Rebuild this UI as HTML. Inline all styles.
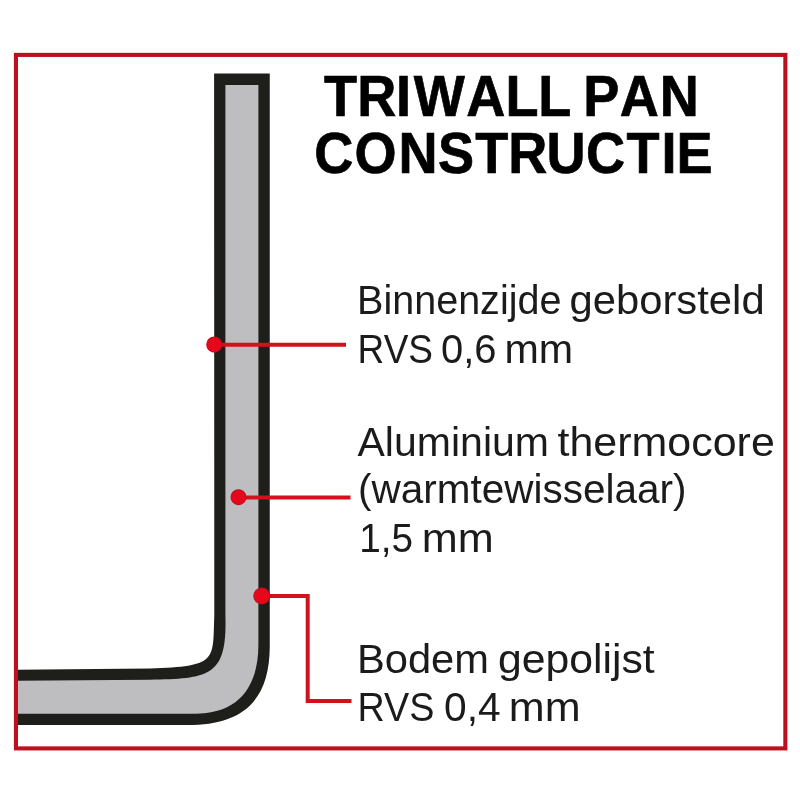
<!DOCTYPE html>
<html><head><meta charset="utf-8">
<style>
html,body{margin:0;padding:0;background:#fff;width:800px;height:800px;overflow:hidden}
svg{display:block}
text{font-family:"Liberation Sans",sans-serif}
.t{will-change:transform}
</style></head>
<body>
<svg width="800" height="800" viewBox="0 0 800 800">
<rect x="0" y="0" width="800" height="800" fill="#ffffff"/>
<!-- pan black -->
<path d="M214.1 73.5 L269.75 73.5 L269.75 646 C269.75 705.8 237.05 725 187.6 725 L16 725 L16 669.8 L150 668.6 C217.86 665.91 212.63 661.62 214.3 615 Z" fill="#1e1e1b"/>
<!-- pan grey -->
<path d="M225.4 85 L258.4 85 L258.4 644.6 C258.4 689.8 236.0 713.8 194.8 713.8 L16 713.8 L16 680.8 L150 679.7 C210.92 678.70 227.24 675.78 225.4 615 Z" fill="#bebec1"/>
<!-- red border -->
<rect x="15.95" y="54.9" width="769.4" height="693.5" fill="none" stroke="#bc101e" stroke-width="4.1"/>
<!-- leaders -->
<g stroke="#d3101d" stroke-width="4" fill="none">
<path d="M214.5 344.8 H346"/>
<path d="M238.6 497.6 H350.5"/>
<path d="M261.8 596 H307.7 V700.9 H351.5"/>
</g>
<g fill="#e8061a" stroke="#c50d1b" stroke-width="1.2">
<circle cx="214.3" cy="344.6" r="7.5"/>
<circle cx="238.5" cy="497.2" r="7.4"/>
<circle cx="261.8" cy="596" r="7.9"/>
</g>
<g class="t" fill="#000" stroke="#000" stroke-width="0.7" font-weight="bold" font-size="58">
<text transform="scale(0.93265,1)" x="347.52 383.01 424.53 443.71 499.82 542.01 577.2 625.45 664.62 707.48" y="116">TRIWALLPAN</text>
<text transform="scale(0.93312,1)" x="336.68 380.02 427.19 469.32 509.38 544.68 585.6 628.02 671.52 708.95 725.01" y="173">CONSTRUCTIE</text>
</g>
<g class="t" fill="#1b1b1b" font-size="40.7">
<text transform="translate(357.09,0) scale(0.9709,1)" x="0" y="314.5">Binnenzijde</text>
<text transform="translate(569.46,0) scale(1.0269,1)" x="0" y="314.5">geborsteld</text>
<text transform="translate(357.59,0) scale(0.9093,1)" x="0" y="363.1">RVS</text>
<text transform="translate(441.04,0) scale(0.9811,1)" x="0" y="363.1">0,6</text>
<text transform="translate(504.46,0) scale(1.0130,1)" x="0" y="363.1">mm</text>
<text transform="translate(357.49,0) scale(1.0086,1)" x="0" y="455.9">Aluminium</text>
<text transform="translate(557.47,0) scale(1.0559,1)" x="0" y="455.9">thermocore</text>
<text transform="translate(358.01,0) scale(0.9951,1)" x="0" y="503">(warmtewisselaar)</text>
<text transform="translate(359.14,0) scale(0.9535,1)" x="0" y="552">1,5</text>
<text transform="translate(421.82,0) scale(1.0614,1)" x="0" y="552">mm</text>
<text transform="translate(356.93,0) scale(1.0244,1)" x="0" y="673.1">Bodem</text>
<text transform="translate(497.90,0) scale(1.0503,1)" x="0" y="673.1">gepolijst</text>
<text transform="translate(357.51,0) scale(0.9276,1)" x="0" y="721">RVS</text>
<text transform="translate(444.00,0) scale(1.0000,1)" x="0" y="721">0,4</text>
<text transform="translate(508.82,0) scale(1.0584,1)" x="0" y="721">mm</text>
</g>
</svg>
</body></html>
